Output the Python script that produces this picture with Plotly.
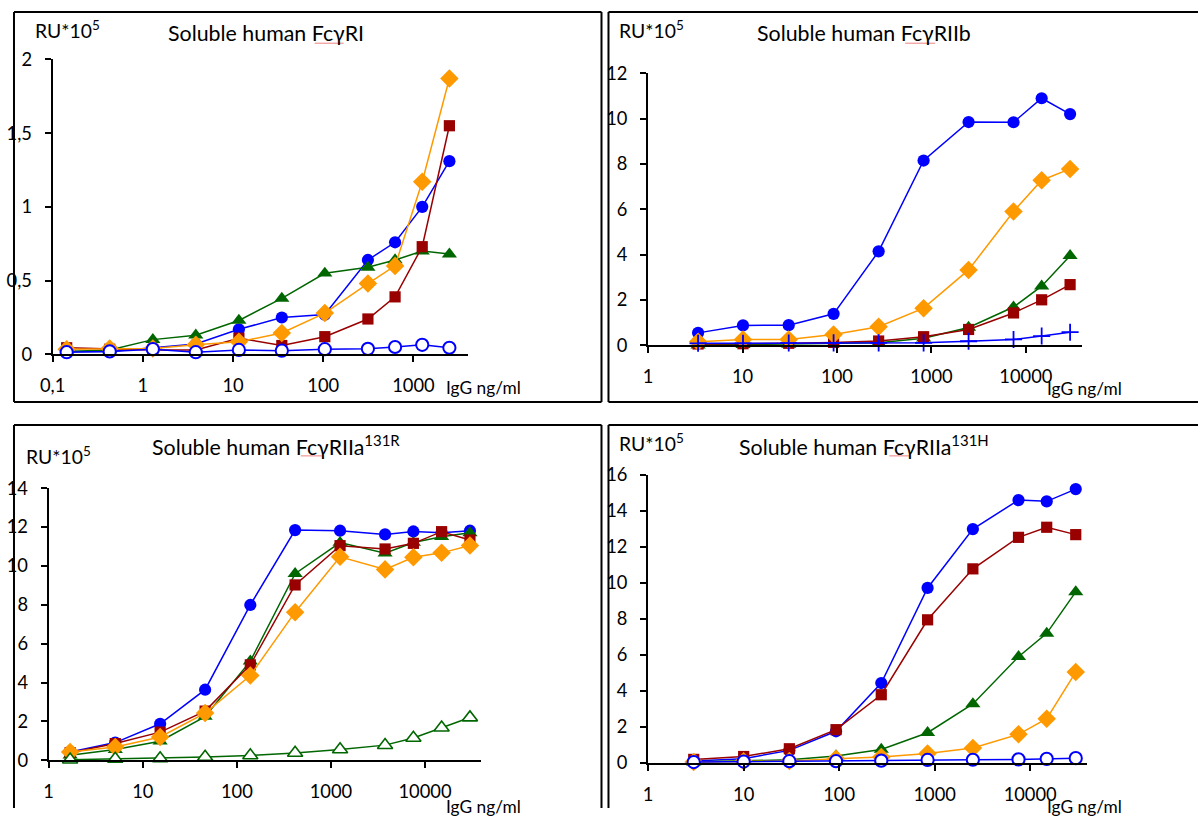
import plotly.graph_objects as go

W, H = 1198, 818

# ---------------- data (RU * 10^5 versus IgG ng/ml) ----------------
# Soluble human FcγRI
conc_ri = [0.143, 0.429, 1.29, 3.86, 11.6, 34.7, 104, 312.5, 625, 1250, 2500]
ri_blue = [0.02, 0.02, 0.045, 0.07, 0.17, 0.25, 0.27, 0.64, 0.76, 1.0, 1.31]
ri_green = [0.02, 0.03, 0.10, 0.13, 0.23, 0.38, 0.55, 0.59, 0.64, 0.70, 0.68]
ri_red = [0.045, 0.035, 0.03, 0.03, 0.11, 0.06, 0.12, 0.24, 0.39, 0.73, 1.55]
ri_orange = [0.035, 0.04, 0.04, 0.065, 0.085, 0.145, 0.28, 0.48, 0.60, 1.17, 1.87]
ri_open = [0.015, 0.02, 0.035, 0.015, 0.03, 0.025, 0.035, 0.038, 0.05, 0.065, 0.045]

# Soluble human FcγRIIb
conc_iib = [3.38, 10.1, 30.8, 92, 276, 826, 2473, 7400, 14700, 29400]
iib_blue = [0.54, 0.87, 0.88, 1.38, 4.14, 8.15, 9.85, 9.84, 10.9, 10.2]
iib_green = [0.0, 0.02, 0.03, 0.06, 0.10, 0.30, 0.78, 1.68, 2.6, 3.95]
iib_red = [0.05, 0.06, 0.08, 0.12, 0.18, 0.37, 0.69, 1.42, 2.0, 2.67]
iib_orange = [0.15, 0.25, 0.25, 0.47, 0.81, 1.63, 3.32, 5.9, 7.28, 7.78]
iib_plus = [0.08, 0.08, 0.09, 0.10, 0.10, 0.10, 0.17, 0.25, 0.40, 0.57]

# Soluble human FcγRIIa 131R
conc_r = [1.69, 5.1, 15.3, 46, 139, 416, 1250, 3760, 7520, 15000, 30000]
r_blue = [0.43, 0.91, 1.88, 3.63, 7.99, 11.84, 11.81, 11.62, 11.77, 11.7, 11.81]
r_green = [0.26, 0.55, 0.98, 2.25, 5.1, 9.6, 11.2, 10.65, 11.2, 11.5, 11.7]
r_red = [0.39, 0.86, 1.45, 2.53, 4.91, 9.02, 11.04, 10.87, 11.16, 11.76, 11.33]
r_orange = [0.43, 0.68, 1.2, 2.43, 4.36, 7.62, 10.47, 9.82, 10.44, 10.67, 11.05]
r_open = [0.03, 0.07, 0.10, 0.17, 0.25, 0.38, 0.56, 0.78, 1.15, 1.68, 2.2]

# Soluble human FcγRIIa 131H
conc_h = [3.0, 10.0, 30.1, 92.7, 276, 843, 2512, 7550, 14900, 30000]
h_blue = [0.11, 0.24, 0.7, 1.76, 4.44, 9.72, 12.99, 14.6, 14.53, 15.21]
h_green = [0.05, 0.10, 0.18, 0.39, 0.75, 1.68, 3.28, 5.9, 7.2, 9.5]
h_red = [0.2, 0.36, 0.79, 1.85, 3.79, 7.95, 10.78, 12.53, 13.09, 12.68]
h_orange = [0.05, 0.10, 0.11, 0.24, 0.33, 0.52, 0.83, 1.59, 2.46, 5.05]
h_open = [0.05, 0.08, 0.10, 0.10, 0.13, 0.17, 0.18, 0.20, 0.23, 0.27]

# tick labels
ri_xticks = ["0,1", "1", "10", "100", "1000"]
ri_yticks = ["0", "0,5", "1", "1,5", "2"]
dec_xticks = ["1", "10", "100", "1000", "10000"]

BLUE = "#0000FF"
RED = "#990000"
GREEN = "#006600"
ORANGE = "#FF9900"
FONT = "Lato"

# the layout below is written in page pixels; these convert them to figure pixels
OFF_X, SCALE_X = 12.0, 0.99
OFF_Y, SCALE_Y = 10.25, 0.975
K = 1 / ((SCALE_X + SCALE_Y) / 2)  # size factor for fonts and markers


def fx(p):
    return (p - OFF_X) / SCALE_X


def fy(p):
    return (p - OFF_Y) / SCALE_Y


def px_x(p):
    return min(max(fx(p), 0.0), W) / W


def px_y(p):
    return 1 - min(max(fy(p), 0.0), H) / H


MARKERS = {
    "blue": dict(symbol="circle", size=12 * K, color=BLUE),
    "red": dict(symbol="square", size=11 * K, color=RED),
    "green": dict(symbol="triangle-up", size=13 * K, color=GREEN),
    "orange": dict(symbol="diamond", size=14 * K, color=ORANGE),
    "open_circle": dict(symbol="circle", size=12 * K, color="white",
                        line=dict(color=BLUE, width=2)),
    "open_triangle": dict(symbol="triangle-up", size=13 * K, color="white",
                          line=dict(color=GREEN, width=1.6)),
    "plus": dict(symbol="cross-thin", size=12 * K, line=dict(color=BLUE, width=1.8)),
}
LINECOL = {"blue": BLUE, "red": RED, "green": GREEN, "orange": ORANGE,
           "open_circle": BLUE, "open_triangle": GREEN, "plus": BLUE}

fig = go.Figure()


def add(x, y, kind, n):
    fig.add_trace(go.Scatter(
        x=x, y=y, mode="lines+markers",
        line=dict(color=LINECOL[kind], width=1.5),
        marker=MARKERS[kind], cliponaxis=False, showlegend=False,
        xaxis="x" if n == 1 else f"x{n}", yaxis="y" if n == 1 else f"y{n}",
    ))


for ys, k in [(ri_blue, "blue"), (ri_green, "green"), (ri_red, "red"),
              (ri_orange, "orange"), (ri_open, "open_circle")]:
    add(conc_ri, ys, k, 1)
for ys, k in [(iib_blue, "blue"), (iib_green, "green"), (iib_red, "red"),
              (iib_orange, "orange"), (iib_plus, "plus")]:
    add(conc_iib, ys, k, 2)
for ys, k in [(r_blue, "blue"), (r_green, "green"), (r_red, "red"),
              (r_orange, "orange"), (r_open, "open_triangle")]:
    add(conc_r, ys, k, 3)
for ys, k in [(h_blue, "blue"), (h_green, "green"), (h_red, "red"),
              (h_orange, "orange"), (h_open, "open_circle")]:
    add(conc_h, ys, k, 4)

# panel geometry in pixels: y-axis x, x-axis y, top of y-axis, right end of x-axis
panels = {
    1: dict(x0=51.7, x1=467.0, yb=353.3, yt=57.7, xr=[-1, 3.6], yr=[0, 2],
            xtv=[0.1, 1, 10, 100, 1000], xtt=ri_xticks,
            ytv=[0, 0.5, 1, 1.5, 2], ytt=ri_yticks),
    2: dict(x0=647.7, x1=1081.5, yb=344.0, yt=71.7, xr=[0, 4.59], yr=[0, 12],
            xtv=[1, 10, 100, 1000, 10000], xtt=dec_xticks,
            ytv=list(range(0, 13, 2)), ytt=[str(v) for v in range(0, 13, 2)]),
    3: dict(x0=47.7, x1=480.9, yb=760.0, yt=487.3, xr=[0, 4.6], yr=[0, 14],
            xtv=[1, 10, 100, 1000, 10000], xtt=dec_xticks,
            ytv=list(range(0, 15, 2)), ytt=[str(v) for v in range(0, 15, 2)]),
    4: dict(x0=647.7, x1=1087.4, yb=762.7, yt=474.0, xr=[0, 4.6], yr=[0, 16],
            xtv=[1, 10, 100, 1000, 10000], xtt=dec_xticks,
            ytv=list(range(0, 17, 2)), ytt=[str(v) for v in range(0, 17, 2)]),
}

tickfont = dict(family=FONT, size=18 * K, color="black")
layout = {}
for n, p in panels.items():
    xs = "" if n == 1 else str(n)
    layout[f"xaxis{xs}"] = dict(
        type="log", range=p["xr"], domain=[px_x(p["x0"]), px_x(p["x1"])],
        anchor=f"y{xs}", showline=True, linecolor="black", linewidth=2,
        ticks="outside", ticklen=6, tickwidth=2, tickcolor="black",
        tickvals=p["xtv"], ticktext=p["xtt"], tickfont=tickfont,
        ticklabelstandoff=8, showgrid=False, zeroline=False, fixedrange=True,
    )
    layout[f"yaxis{xs}"] = dict(
        range=p["yr"], domain=[px_y(p["yb"]), px_y(p["yt"])],
        anchor=f"x{xs}", showline=True, linecolor="black", linewidth=2,
        ticks="outside", ticklen=6, tickwidth=2, tickcolor="black",
        tickvals=p["ytv"], ticktext=p["ytt"], tickfont=tickfont,
        ticklabelstandoff=9, showgrid=False, zeroline=False, fixedrange=True,
    )

annotations = []


def text(s, x, y, size, xanchor="center"):
    annotations.append(dict(
        text=s, x=px_x(x), y=px_y(y), xref="paper", yref="paper",
        xanchor=xanchor, yanchor="middle", showarrow=False,
        font=dict(family=FONT, size=size * K, color="black"),
    ))


# panel titles
text("Soluble human FcγRI", 265, 31, 21)
text("Soluble human FcγRIIb", 864, 31, 21)
text("Soluble human FcγRIIa<sup>131R</sup>", 275, 445, 21)
text("Soluble human FcγRIIa<sup>131H</sup>", 864, 445, 21)

# y-axis units
for x, y in [(32, 28), (617, 28), (23, 455), (617, 442)]:
    text("RU*10<sup>5</sup>", x, y, 19, xanchor="left")

# x-axis units
for x, y in [(443, 386), (1045, 387), (443, 806), (1045, 806)]:
    text("IgG ng/ml", x, y, 17, xanchor="left")

shapes = []


def seg(x0, y0, x1, y1, color="black", width=2):
    shapes.append(dict(type="line", xref="paper", yref="paper",
                       x0=px_x(x0), x1=px_x(x1), y0=px_y(y0), y1=px_y(y1),
                       line=dict(color=color, width=width)))


# panel frames (edges running off the page stop at the page border)
L = OFF_X + 1.0 * SCALE_X  # leftmost drawable frame position
seg(L, 10, 601, 10); seg(L, 10, L, 401); seg(601, 10, 601, 401); seg(L, 401, 601, 401)
seg(608, 10, 1198, 10); seg(608, 10, 608, 401); seg(608, 401, 1198, 401)
seg(L, 424, 601, 424); seg(L, 424, L, 818); seg(601, 424, 601, 818)
seg(608, 424, 1198, 424); seg(608, 424, 608, 818)

# spell-check underline beneath "Fcγ" in the titles
for x0, x1, y in [(314, 343, 41.5), (905, 935, 41.5), (300, 321, 455), (889, 909, 455)]:
    seg(x0, y, x1, y, color="#F08080", width=1)

fig.update_layout(
    width=W, height=H, margin=dict(l=0, r=0, t=0, b=0),
    paper_bgcolor="white", plot_bgcolor="white",
    annotations=annotations, shapes=shapes, showlegend=False,
    font=dict(family=FONT, color="black"),
    **layout,
)

fig.write_html("out.html", config={"displayModeBar": False})
